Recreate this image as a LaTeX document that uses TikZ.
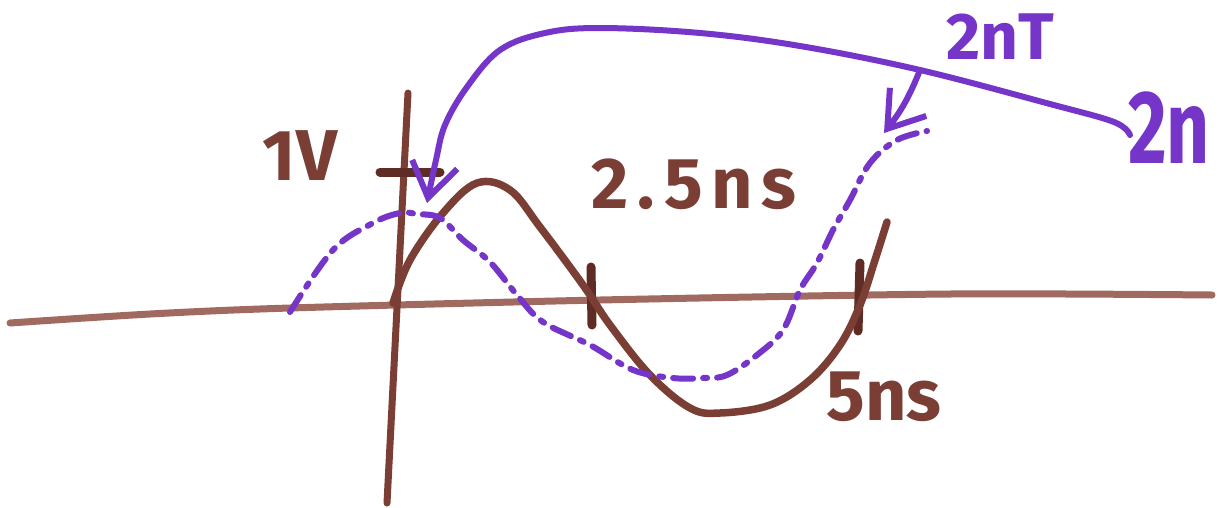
\documentclass[tikz,border=0pt]{standalone}
\usepackage{fontspec}
\setmainfont{Fira Sans}
\usetikzlibrary{arrows.meta}
\definecolor{brn}{HTML}{7A3E34}
\definecolor{axbrn}{HTML}{A06A60}
\definecolor{tickbrn}{HTML}{5E2C24}
\definecolor{purp}{HTML}{7435C8}
\tikzset{
  axisline/.style={axbrn, line width=7pt, line cap=round},
  tickline/.style={tickbrn, line width=9pt, line cap=round},
  wave/.style={brn, line width=7.5pt, line cap=round},
  dashwave/.style={purp, line width=6pt, line cap=round, dash pattern=on 20pt off 10pt on 4pt off 10pt},
  arr/.style={purp, line width=6pt, line cap=round, -{Straight Barb[length=34pt,width=46pt,line width=6pt]}},
  brnlbl/.style={brn, font=\fontsize{72}{80}\selectfont\bfseries, inner sep=0pt},
  purlbl/.style={purp, font=\fontsize{66}{72}\selectfont\bfseries, inner sep=0pt},
}
\begin{document}
\begin{tikzpicture}[x=1pt,y=-1pt]
\useasboundingbox (0,0) rectangle (1221,507);
\clip (0,0) rectangle (1221,507);
\fill[white] (0,0) rectangle (1221,507);
% axes
\draw[axisline] plot[smooth] coordinates {(10,323) (150,314) (290,308) (600,300) (950,294) (1212,295)};
\draw[axisline, brn] (408,93) -- (387,503);
% ticks
\draw[tickline] (380,172) -- (440,172);
\draw[tickline] (591,267) -- (592,325);
\draw[tickline] (860,263) -- (858,331);
% brown wave
\draw[wave] plot[smooth, tension=0.6] coordinates {(393,303) (410,260) (443,213) (477,183) (510,190) (540,227) (583,285) (610,325) (650,375) (690,408) (720,413) (770,405) (810,380) (840,345) (860,305) (875,260) (887,222)};
% purple dashed wave
\draw[dashwave] plot[smooth, tension=0.6] coordinates {(290,312) (333,250) (373,223) (400,213) (417,214) (440,218) (463,240) (490,262) (517,295) (543,322) (590,345) (633,370) (673,378) (703,378) (727,375) (757,355) (783,330) (800,290) (817,263) (833,230) (850,200) (870,163) (897,140) (927,131)};
% arrows
\coordinate (aS) at (1130,135);
\coordinate (aE) at (427,203);
\coordinate (bS) at (920,70);
\coordinate (bE) at (884,133);
\draw[arr] plot[smooth, tension=0.6] coordinates {(aS) (1114,122) (1050,104) (920,70) (800,46) (700,33) (600,28) (545,33) (500,50) (467,87) (445,125) (436,160) (aE)};
\draw[arr] (bS) to[bend left=8] (bE);
% labels
\node[brnlbl] (v1) at (300,156) {1V};
\node[brnlbl, font=\fontsize{72}{80}\selectfont\bfseries\addfontfeature{LetterSpace=12}] (t25) at (694,184) {2.5ns};
\node[brnlbl] (t5) at (884,397) {5ns};
\node[purlbl] (nT) at (1000,37) {2nT};
\node[purlbl, font=\fontsize{104}{110}\selectfont\bfseries, anchor=west, xscale=0.72] (n2) at (1128,128) {2n};
\end{tikzpicture}
\end{document}
